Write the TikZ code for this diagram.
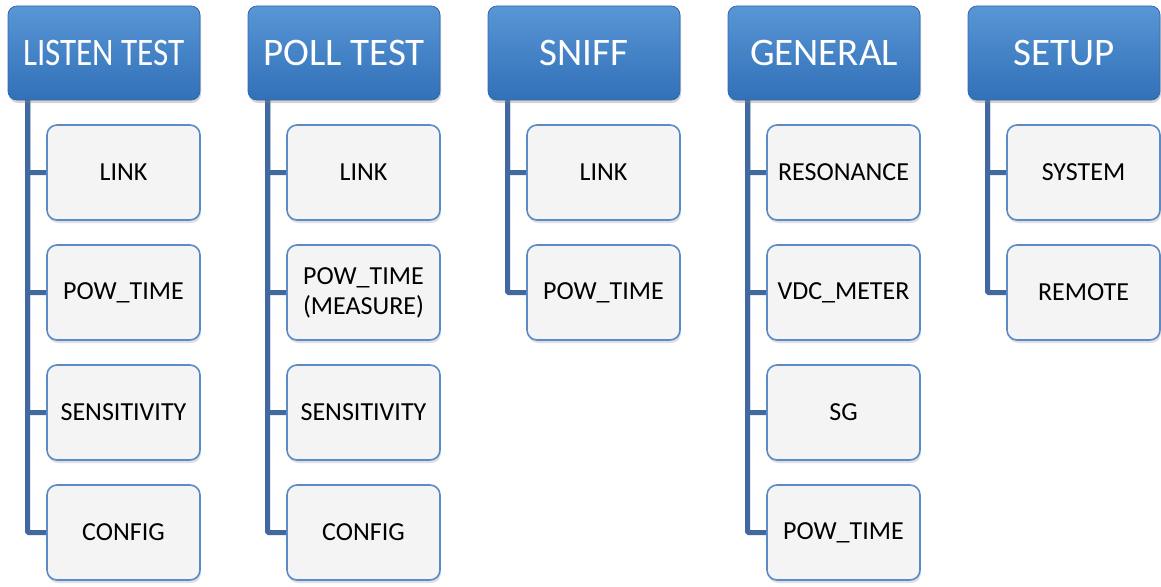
\documentclass[tikz,border=0pt]{standalone}
\usepackage{fontspec}
\setmainfont{Carlito}
\usepackage{tikz}
\usetikzlibrary{positioning,shadows,backgrounds}
\definecolor{hdrtop}{HTML}{5896D6}
\definecolor{hdrbot}{HTML}{3270B8}
\definecolor{hdredge}{HTML}{3468A8}
\definecolor{leafedge}{HTML}{5A8BC6}
\definecolor{leaffill}{HTML}{F4F4F4}
\definecolor{trunkblue}{HTML}{41699F}

\begin{document}
\begin{tikzpicture}[x=1pt,y=-1pt,
    hdrbox/.style={rectangle,rounded corners=9pt,draw=hdredge,line width=0.8pt,
      top color=hdrtop,bottom color=hdrbot,text=white,
      minimum width=192pt,minimum height=94pt,inner sep=0pt,
      font=\fontsize{39}{42}\selectfont,
      drop shadow={shadow xshift=1pt,shadow yshift=-3pt,opacity=0.35}},
    leafbox/.style={rectangle,rounded corners=10pt,draw=leafedge,line width=1.6pt,
      fill=leaffill,text=black,align=center,
      minimum width=153pt,minimum height=95pt,inner sep=0pt,
      font=\fontsize{26}{30}\selectfont,
      drop shadow={shadow xshift=1pt,shadow yshift=-3pt,opacity=0.25}},
    trunk/.style={draw=trunkblue,line width=5pt,rounded corners=1pt}]
        \useasboundingbox (0,0) rectangle (1161,586);

        % Top row of menus
        \node[hdrbox] (hdrListen)  at (104,53)  {\scalebox{0.85}[1]{LISTEN TEST}};
        \node[hdrbox] (hdrPoll)    at (344,53)  {POLL TEST};
        \node[hdrbox] (hdrSniff)   at (584,53)  {SNIFF};
        \node[hdrbox] (hdrGeneral) at (824,53)  {GENERAL};
        \node[hdrbox] (hdrSetup)   at (1064,53) {SETUP};

        % Listen test items
        \node[leafbox] (lsLink)  at (123.5,172.5) {LINK};
        \node[leafbox] (lsPow)   at (123.5,292.5) {POW\_TIME};
        \node[leafbox] (lsSens)  at (123.5,412.5) {SENSITIVITY};
        \node[leafbox] (lsConf)  at (123.5,532.5) {CONFIG};

        % Poll test items
        \node[leafbox] (plLink)  at (363.5,172.5) {LINK};
        \node[leafbox] (plPow)   at (363.5,292.5) {POW\_TIME\\(MEASURE)};
        \node[leafbox] (plSens)  at (363.5,412.5) {SENSITIVITY};
        \node[leafbox] (plConf)  at (363.5,532.5) {CONFIG};

        % Sniff items
        \node[leafbox] (snLink)  at (603.5,172.5) {LINK};
        \node[leafbox] (snPow)   at (603.5,292.5) {POW\_TIME};

        % General items
        \node[leafbox] (gnRes)   at (843.5,172.5) {RESONANCE};
        \node[leafbox] (gnVdc)   at (843.5,292.5) {VDC\_METER};
        \node[leafbox] (gnSg)    at (843.5,412.5) {SG};
        \node[leafbox] (gnPow)   at (843.5,532.5) {POW\_TIME};

        % Setup items
        \node[leafbox] (stSys)   at (1083.5,172.5) {SYSTEM};
        \node[leafbox] (stRem)   at (1083.5,292.5) {REMOTE};

        % Trunks from each menu down to its items
        \begin{scope}[on background layer]
        \foreach \hdr/\leaf in {hdrListen/lsLink,hdrListen/lsPow,hdrListen/lsSens,hdrListen/lsConf,
            hdrPoll/plLink,hdrPoll/plPow,hdrPoll/plSens,hdrPoll/plConf,
            hdrSniff/snLink,hdrSniff/snPow,
            hdrGeneral/gnRes,hdrGeneral/gnVdc,hdrGeneral/gnSg,hdrGeneral/gnPow,
            hdrSetup/stSys,hdrSetup/stRem}
          \draw[trunk] ([xshift=20pt]\hdr.south west) |- (\leaf.west);
        \end{scope}
      \end{tikzpicture}
\end{document}
